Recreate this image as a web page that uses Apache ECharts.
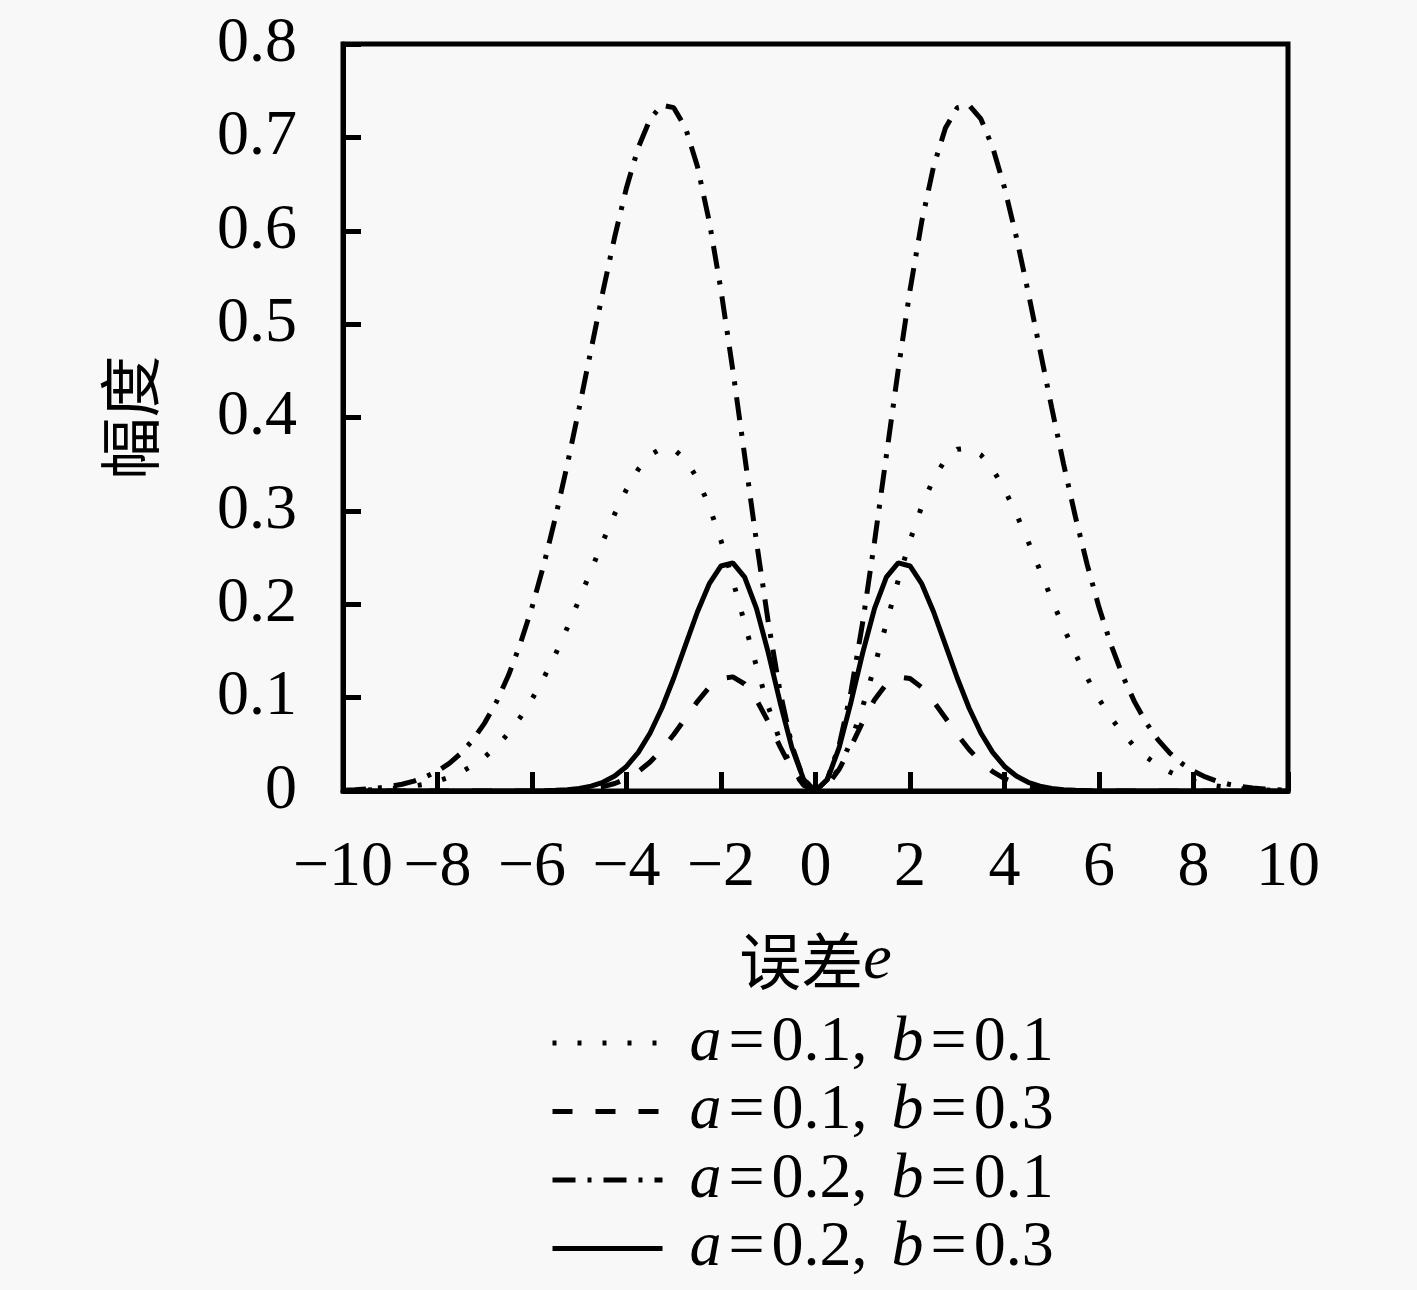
<!DOCTYPE html>
<html>
<head>
<meta charset="utf-8">
<script src="https://cdn.jsdelivr.net/npm/echarts@6/dist/echarts.min.js"></script>
<style>
html,body{margin:0;padding:0;background:#f8f8f8;}
#c{width:1417px;height:1290px;}
</style>
</head>
<body>
<div id="c"></div>
<script>
var xs = [-10,-9.75,-9.5,-9.25,-9,-8.75,-8.5,-8.25,-8,-7.75,-7.5,-7.25,-7,-6.75,-6.5,-6.25,-6,-5.75,-5.5,-5.25,-5,-4.75,-4.5,-4.25,-4,-3.75,-3.5,-3.25,-3,-2.75,-2.5,-2.25,-2,-1.75,-1.5,-1.25,-1,-0.75,-0.5,-0.25,0,0.25,0.5,0.75,1,1.25,1.5,1.75,2,2.25,2.5,2.75,3,3.25,3.5,3.75,4,4.25,4.5,4.75,5,5.25,5.5,5.75,6,6.25,6.5,6.75,7,7.25,7.5,7.75,8,8.25,8.5,8.75,9,9.25,9.5,9.75,10];

var seriesNames = ['a=0.1, b=0.1', 'a=0.1, b=0.3', 'a=0.2, b=0.1', 'a=0.2, b=0.3'];

var a01b01 = [0.0005,0.0007,0.0011,0.0016,0.0025,0.0036,0.0053,0.0075,0.0106,0.0148,0.0203,0.0274,0.0365,0.0478,0.0618,0.0786,0.0984,0.1212,0.1469,0.1751,0.2052,0.2363,0.2673,0.2967,0.3230,0.3446,0.3599,0.3673,0.3659,0.3550,0.3345,0.3051,0.2681,0.2255,0.1797,0.1336,0.0905,0.0532,0.0244,0.0062,
  0,
  0.0062,0.0244,0.0532,0.0905,0.1336,0.1797,0.2255,0.2681,0.3051,0.3345,0.3550,0.3659,0.3673,0.3599,0.3446,0.3230,0.2967,0.2673,0.2363,0.2052,0.1751,0.1469,0.1212,0.0984,0.0786,0.0618,0.0478,0.0365,0.0274,0.0203,0.0148,0.0106,0.0075,0.0053,0.0036,0.0025,0.0016,0.0011,0.0007,0.0005];

var a01b03 = [0,0,0,0,0,0,0,0,0,0,0,0,0,0,0,0,0.0001,0.0002,0.0003,0.0007,0.0014,0.0026,0.0047,0.0080,0.0132,0.0207,0.0311,0.0444,0.0605,0.0782,0.0958,0.1109,0.1205,0.1222,0.1146,0.0978,0.0741,0.0475,0.0232,0.0061,
  0,
  0.0061,0.0232,0.0475,0.0741,0.0978,0.1146,0.1222,0.1205,0.1109,0.0958,0.0782,0.0605,0.0444,0.0311,0.0207,0.0132,0.0080,0.0047,0.0026,0.0014,0.0007,0.0003,0.0002,0.0001,0,0,0,0,0,0,0,0,0,0,0,0,0,0,0,0];

var a02b01 = [0.0009,0.0014,0.0022,0.0033,0.0049,0.0072,0.0105,0.0151,0.0213,0.0296,0.0406,0.0548,0.0730,0.0957,0.1236,0.1572,0.1967,0.2424,0.2938,0.3502,0.4104,0.4726,0.5346,0.5934,0.6461,0.6892,0.7197,0.7346,0.7318,0.7100,0.6691,0.6103,0.5363,0.4509,0.3593,0.2673,0.1810,0.1063,0.0488,0.0124,
  0,
  0.0124,0.0488,0.1063,0.1810,0.2673,0.3593,0.4509,0.5363,0.6103,0.6691,0.7100,0.7318,0.7346,0.7197,0.6892,0.6461,0.5934,0.5346,0.4726,0.4104,0.3502,0.2938,0.2424,0.1967,0.1572,0.1236,0.0957,0.0730,0.0548,0.0406,0.0296,0.0213,0.0151,0.0105,0.0072,0.0049,0.0033,0.0022,0.0014,0.0009];

var a02b03 = [0,0,0,0,0,0,0,0,0,0,0,0,0,0,0,0.0001,0.0001,0.0003,0.0007,0.0014,0.0028,0.0052,0.0093,0.0160,0.0263,0.0414,0.0621,0.0889,0.1210,0.1565,0.1917,0.2217,0.2410,0.2444,0.2291,0.1956,0.1482,0.0950,0.0464,0.0123,
  0,
  0.0123,0.0464,0.0950,0.1482,0.1956,0.2291,0.2444,0.2410,0.2217,0.1917,0.1565,0.1210,0.0889,0.0621,0.0414,0.0263,0.0160,0.0093,0.0052,0.0028,0.0014,0.0007,0.0003,0.0001,0.0001,0,0,0,0,0,0,0,0,0,0,0,0,0,0,0];

var seriesValues = [a01b01, a01b03, a02b01, a02b03];
var dashes = [[4, 21], [20, 23], [23, 12, 4, 12], 'solid'];

var serif = '"Liberation Serif", "DejaVu Serif", serif';
var cjk = '"Noto Sans CJK SC", sans-serif';

var chart = echarts.init(document.getElementById('c'));

var series = seriesNames.map(function (name, k) {
  return {
    name: name,
    type: 'line',
    symbol: 'none',
    showSymbol: false,
    smooth: false,
    lineStyle: { color: '#000', width: 5, type: dashes[k] },
    itemStyle: { color: '#000' },
    data: xs.map(function (x, i) { return [x, seriesValues[k][i]]; })
  };
});

chart.setOption({
  backgroundColor: '#f8f8f8',
  animation: false,
  grid: {
    left: 343, right: 129, top: 44, bottom: 499,
    show: true, borderColor: '#000', borderWidth: 5, backgroundColor: 'transparent'
  },
  xAxis: {
    type: 'value', min: -10, max: 10, interval: 2,
    name: '{c|误差}{i|e}',
    nameLocation: 'middle', nameGap: 138,
    nameTextStyle: {
      rich: {
        c: { fontFamily: cjk, fontSize: 62, color: '#000' },
        i: { fontFamily: serif, fontStyle: 'italic', fontSize: 64, color: '#000' }
      }
    },
    axisLine: { show: true, onZero: false, lineStyle: { color: '#000', width: 5 } },
    axisTick: { show: true, inside: true, length: 19, lineStyle: { color: '#000', width: 5 } },
    axisLabel: {
      margin: 45, color: '#000', fontFamily: serif, fontSize: 64,
      formatter: function (v) { return String(v).replace('-', '\u2212'); }
    },
    splitLine: { show: false }
  },
  yAxis: {
    type: 'value', min: 0, max: 0.8, interval: 0.1,
    name: '幅度',
    nameLocation: 'middle', nameGap: 182, nameRotate: 90,
    nameTextStyle: { fontFamily: cjk, fontSize: 62, color: '#000' },
    axisLine: { show: true, onZero: false, lineStyle: { color: '#000', width: 5 } },
    axisTick: { show: true, inside: true, length: 18, lineStyle: { color: '#000', width: 5 } },
    axisLabel: {
      margin: 46, color: '#000', fontFamily: serif, fontSize: 64,
      formatter: function (v) { return v === 0 ? '0' : String(Math.round(v * 10) / 10); }
    },
    splitLine: { show: false }
  },
  legend: {
    orient: 'vertical',
    left: 550, top: 1011, height: 600,
    padding: 0,
    itemWidth: 110, itemHeight: 14, itemGap: 4.5,
    data: seriesNames,
    itemStyle: { opacity: 0, borderWidth: 0 },
    lineStyle: { width: 5 },
    formatter: function (name) {
      var m = name.match(/a=([\d.]+), b=([\d.]+)/);
      return '{i0|a}{eq|=}{n|' + m[1] + ',}{sp|}{i|b}{eq|=}{n|' + m[2] + '}';
    },
    textStyle: {
      color: '#000', fontFamily: serif, fontSize: 64, lineHeight: 60,
      rich: {
        i0: { fontFamily: serif, fontStyle: 'italic', fontSize: 64, lineHeight: 60, color: '#000', padding: [0, 0, 0, 22] },
        i: { fontFamily: serif, fontStyle: 'italic', fontSize: 64, lineHeight: 60, color: '#000' },
        eq: { fontFamily: serif, fontSize: 64, lineHeight: 60, color: '#000', padding: [0, 7, 0, 7] },
        n: { fontFamily: serif, fontSize: 64, lineHeight: 60, color: '#000' },
        sp: { width: 24, lineHeight: 60 }
      }
    }
  },
  series: series
});
</script>
</body>
</html>
